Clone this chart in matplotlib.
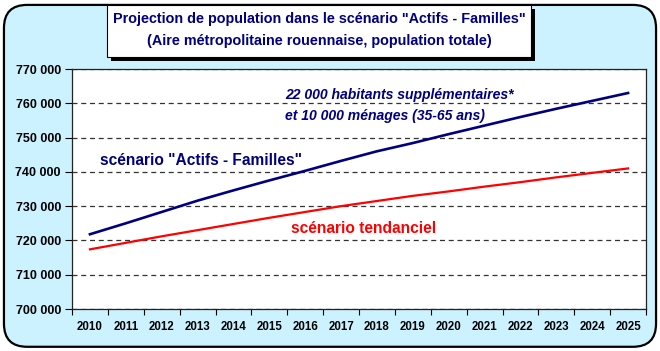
import matplotlib
matplotlib.use("Agg")
import matplotlib.pyplot as plt
from matplotlib.patches import FancyBboxPatch, Rectangle
from matplotlib.ticker import FuncFormatter, MultipleLocator

plt.rcParams['font.family'] = ['Liberation Sans', 'DejaVu Sans']

years = [2010, 2011, 2012, 2013, 2014, 2015, 2016, 2017,
         2018, 2019, 2020, 2021, 2022, 2023, 2024, 2025]
actifs_familles = [721800, 725000, 728300, 731600, 734600, 737500, 740300, 743200,
                   746000, 748400, 751000, 753500, 756000, 758400, 760700, 763000]
tendanciel = [717400, 719300, 721200, 723000, 724800, 726600, 728300, 730000,
              731500, 733000, 734300, 735700, 737000, 738400, 739700, 741000]

bg = '#ccf2ff'
navy = '#000080'
red = '#ff0000'

fig = plt.figure(figsize=(6.6, 3.51), dpi=100)
fig.patch.set_facecolor('white')

# rounded frame
frame = FancyBboxPatch((0.006, 0.012), 0.988, 0.974,
                       boxstyle="round,pad=0,rounding_size=0.035",
                       transform=fig.transFigure, facecolor=bg,
                       edgecolor='black', linewidth=1.6, zorder=-2,
                       mutation_aspect=660 / 351)
fig.patches.append(frame)

# title box with shadow
bx, by, bw, bh = 107 / 660, 1 - 57 / 351, 424 / 660, 52 / 351
shadow = Rectangle((bx + 4 / 660, by - 4 / 351), bw, bh, transform=fig.transFigure,
                   facecolor='black', edgecolor='none', zorder=-1)
box = Rectangle((bx, by), bw, bh, transform=fig.transFigure,
                facecolor='white', edgecolor='black', linewidth=0.8, zorder=-1)
fig.patches.extend([shadow, box])
fig.text(0.484, 1 - 19.5 / 351, 'Projection de population dans le scénario "Actifs - Familles"',
         ha='center', va='center', fontsize=10.4, fontweight='bold', color=navy)
fig.text(0.484, 1 - 41.5 / 351, '(Aire métropolitaine rouennaise, population totale)',
         ha='center', va='center', fontsize=10.4, fontweight='bold', color=navy)

ax = fig.add_axes([72 / 660, 1 - 309 / 351, 574 / 660, 240 / 351])
ax.set_zorder(5)
ax.set_facecolor('white')

x = list(range(len(years)))
ax.plot(x, actifs_familles, color=navy, linewidth=1.9, zorder=3)
ax.plot(x, tendanciel, color=red, linewidth=1.6, zorder=3)

ax.set_xlim(-0.5, len(years) - 0.5)
ax.set_ylim(700000, 770000)
ax.yaxis.set_major_locator(MultipleLocator(10000))
ax.yaxis.set_major_formatter(FuncFormatter(lambda v, p: f"{int(v):,}".replace(',', ' ')))
ax.set_xticks([i - 0.5 for i in range(len(years) + 1)])
ax.set_xticklabels([])
ax.set_xticks(x, minor=True)
ax.set_xticklabels([str(y) for y in years], minor=True)
ax.tick_params(axis='x', which='minor', length=0, pad=9)
ax.tick_params(axis='x', which='major', length=4, direction='out', width=0.8)
ax.tick_params(axis='y', length=5, width=0.8, pad=3)
for lab in ax.get_yticklabels():
    lab.set_fontweight('bold')
    lab.set_fontsize(9)
for lab in ax.get_xticklabels(minor=True):
    lab.set_fontweight('bold')
    lab.set_fontsize(8.3)

ax.grid(axis='y', linestyle=(0, (4, 3)), color='#333333', linewidth=0.9)
ax.set_axisbelow(True)
for s in ax.spines.values():
    s.set_color('#222222')
    s.set_linewidth(0.9)

ax.text(8.64, 762300, '22 000 habitants supplémentaires*', ha='center', va='center',
        fontsize=10.1, fontweight='bold', fontstyle='italic', color=navy)
ax.text(8.22, 756300, 'et 10 000 ménages (35-65 ans)', ha='center', va='center',
        fontsize=10.1, fontweight='bold', fontstyle='italic', color=navy)
ax.text(3.1, 743400, 'scénario "Actifs - Familles"', ha='center', va='center',
        fontsize=11.2, fontweight='bold', color=navy)
ax.text(7.64, 723600, 'scénario tendanciel', ha='center', va='center',
        fontsize=11.2, fontweight='bold', color=red)

fig.savefig('out.png', dpi=100, facecolor=fig.get_facecolor())
